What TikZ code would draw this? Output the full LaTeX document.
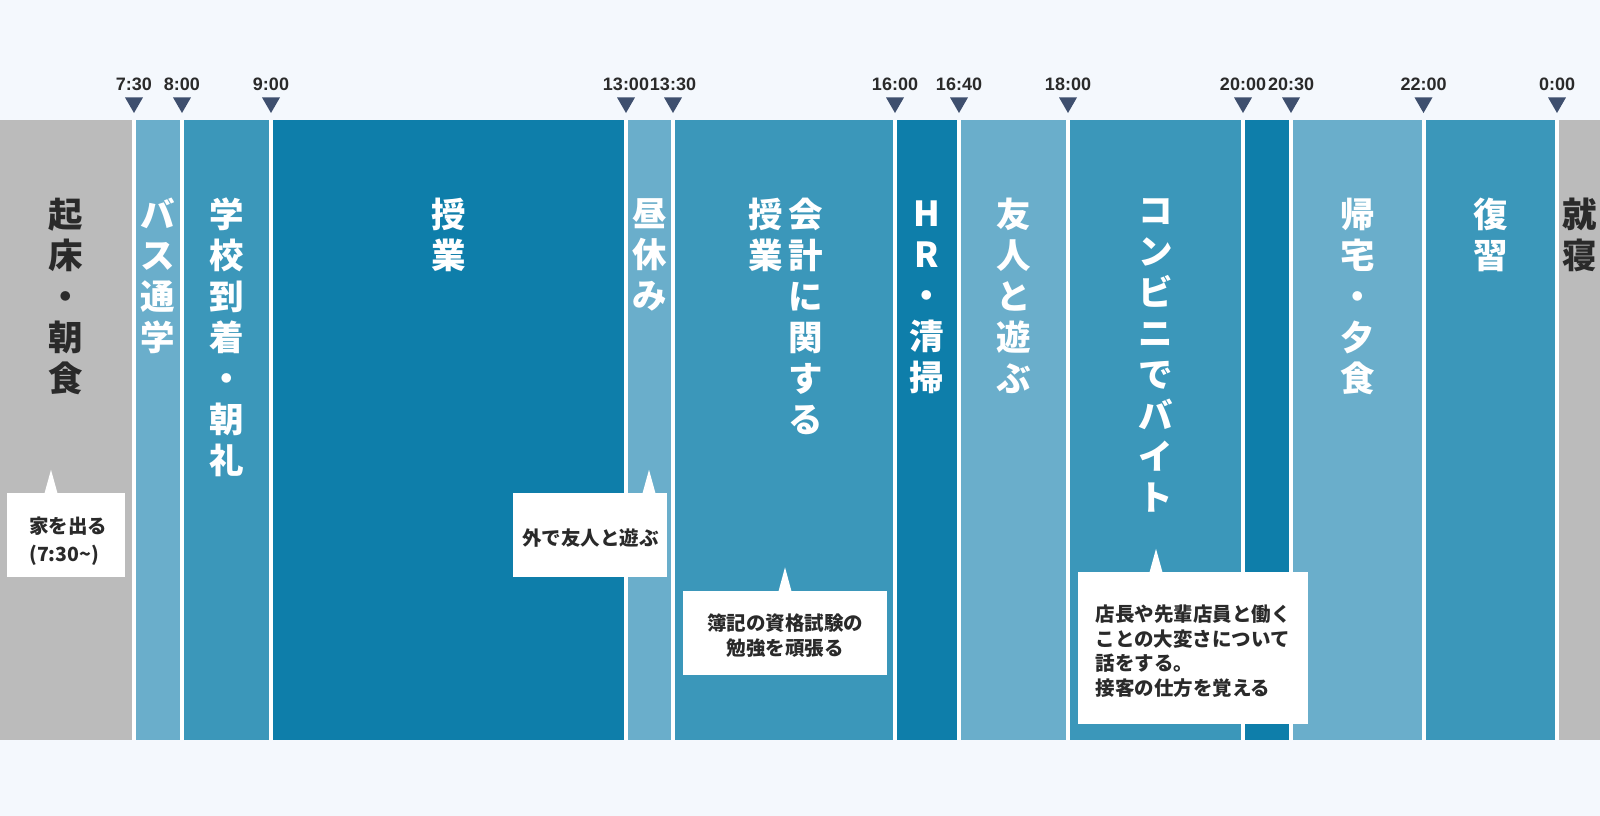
\documentclass[tikz,border=0pt]{standalone}
\usepackage{fontspec}
\setmainfont{Noto Sans CJK JP}
\newfontfamily\timefont{Liberation Sans}
\usetikzlibrary{positioning}
\usetikzlibrary{calc}
\usetikzlibrary{shapes.geometric}

\definecolor{bgc}{HTML}{F4F8FD}
\definecolor{grayc}{HTML}{BBBBBB}
\definecolor{lightc}{HTML}{6AAECB}
\definecolor{midc}{HTML}{3B97BA}
\definecolor{darkc}{HTML}{0E7EAA}
\definecolor{markc}{HTML}{3E4F6E}
\definecolor{inkc}{HTML}{2A2A2A}

\begin{document}
\begin{tikzpicture}[x=1pt, y=-1pt,
	col/.style={rectangle, inner sep=0pt, minimum height=620pt, anchor=north west},
	coltext/.style={font=\fontsize{34.5}{41}\selectfont\bfseries, text=white, align=center, inner sep=0pt},
	tick/.style={regular polygon, regular polygon sides=3, shape border rotate=180, fill=markc, inner sep=0pt, minimum size=20.8pt},
	time/.style={font=\timefont\fontsize{18}{20}\selectfont\bfseries, text=inkc, inner sep=0pt},
	note/.style={rectangle, fill=white, inner sep=0pt},
	notetext/.style={inner sep=0pt, align=left, font=\fontsize{19.5}{24.5}\selectfont\bfseries, text=inkc},
	pointer/.style={fill=white}]
		\useasboundingbox (0,0) rectangle (1600,816);
		\fill[bgc] (0,0) rectangle (1600,816);
		\fill[white] (0,120) rectangle (1600,740);
		% columns
		\node[col, fill=grayc, minimum width=132pt] (wake) at (0,120) {};
		\node[col, fill=lightc, minimum width=44pt] (bus) at (136,120) {};
		\node[col, fill=midc, minimum width=85pt] (arrive) at (184,120) {};
		\node[col, fill=darkc, minimum width=351pt] (class) at (273,120) {};
		\node[col, fill=lightc, minimum width=43pt] (lunch) at (628,120) {};
		\node[col, fill=midc, minimum width=218pt] (acct) at (675,120) {};
		\node[col, fill=darkc, minimum width=60pt] (hr) at (897,120) {};
		\node[col, fill=lightc, minimum width=105pt] (friends) at (961,120) {};
		\node[col, fill=midc, minimum width=171pt] (job) at (1070,120) {};
		\node[col, fill=darkc, minimum width=44pt] (ride) at (1245,120) {};
		\node[col, fill=lightc, minimum width=128.5pt] (home) at (1293,120) {};
		\node[col, fill=midc, minimum width=129.5pt] (review) at (1425.5,120) {};
		\node[col, fill=grayc, minimum width=41pt] (sleep) at (1559,120) {};
		% column labels
		\node[coltext, text=inkc, below=78pt of wake.north] (wakelbl) {起\\床\\・\\朝\\食};
		\node[coltext, below=78pt of bus.north] (buslbl) {バ\\ス\\通\\学};
		\node[coltext, below=78pt of arrive.north] (arrivelbl) {学\\校\\到\\着\\・\\朝\\礼};
		\node[coltext, below=78pt of class.north] (classlbl) {授\\業};
		\node[coltext, below=78pt of lunch.north] (lunchlbl) {昼\\休\\み};
		\node[coltext, below=78pt of acct.north, xshift=21.5pt] (acctlbl) {会\\計\\に\\関\\す\\る};
		\node[coltext, below=78pt of acct.north, xshift=-18.5pt] (acctlbl2) {授\\業};
		\node[coltext, below=81pt of hr.north] (hrlbl) {H\\R\\・\\清\\掃};
		\node[coltext, below=78pt of friends.north] (friendslbl) {友\\人\\と\\遊\\ぶ};
		\node[coltext, below=78pt of job.north] (joblbl) {コ\\ン\\ビ\\ニ\\で\\バ\\イ\\ト};
		\node[coltext, below=78pt of home.north] (homelbl) {帰\\宅\\・\\夕\\食};
		\node[coltext, below=78pt of review.north] (reviewlbl) {復\\習};
		\node[coltext, text=inkc, below=78pt of sleep.north] (sleeplbl) {就\\寝};
		% time marks
		\node[tick] (m0730) at (134,102.6) {};
		\node[tick] (m0800) at (182,102.6) {};
		\node[tick] (m0900) at (271,102.6) {};
		\node[tick] (m1300) at (626,102.6) {};
		\node[tick] (m1330) at (673,102.6) {};
		\node[tick] (m1600) at (895,102.6) {};
		\node[tick] (m1640) at (959,102.6) {};
		\node[tick] (m1800) at (1068,102.6) {};
		\node[tick] (m2000) at (1243,102.6) {};
		\node[tick] (m2030) at (1291,102.6) {};
		\node[tick] (m2200) at (1423.5,102.6) {};
		\node[tick] (m0000) at (1557,102.6) {};
		\node[time, above=6.4pt of m0730] (t0730) {7:30};
		\node[time, above=6.4pt of m0800] (t0800) {8:00};
		\node[time, above=6.4pt of m0900] (t0900) {9:00};
		\node[time, above=6.4pt of m1300] (t1300) {13:00};
		\node[time, above=6.4pt of m1330] (t1330) {13:30};
		\node[time, above=6.4pt of m1600] (t1600) {16:00};
		\node[time, above=6.4pt of m1640] (t1640) {16:40};
		\node[time, above=6.4pt of m1800] (t1800) {18:00};
		\node[time, above=6.4pt of m2000] (t2000) {20:00};
		\node[time, above=6.4pt of m2030] (t2030) {20:30};
		\node[time, above=6.4pt of m2200] (t2200) {22:00};
		\node[time, above=6.4pt of m0000] (t0000) {0:00};
		% notes
		\node[note, minimum width=118pt, minimum height=84pt] (leave) at (66.2,535) {};
		\node[note, minimum width=154pt, minimum height=84pt] (play) at (590.3,535) {};
		\node[note, minimum width=204pt, minimum height=84pt] (study) at (785,633) {};
		\node[note, minimum width=230pt, minimum height=152pt] (talk) at (1193,648) {};
		\fill[pointer] ($(leave.north)+(-21.7,0.5)$) -- ++(6.5,-23.5) -- ++(6.5,23.5) -- cycle;
		\fill[pointer] ($(play.north)+(52.2,0.5)$) -- ++(6.5,-23.5) -- ++(6.5,23.5) -- cycle;
		\fill[pointer] ($(study.north)+(-6.5,0.5)$) -- ++(6.5,-24) -- ++(6.5,24) -- cycle;
		\fill[pointer] ($(talk.north)+(-43.5,0.5)$) -- ++(6.5,-23.5) -- ++(6.5,23.5) -- cycle;
		\node[notetext, anchor=west] (leavetxt) at ($(leave.west)+(22,6)$) {家を出る\\[3pt](7:30\textasciitilde)};
		\node[notetext] (playtxt) at ($(play.center)+(0,3)$) {外で友人と遊ぶ};
		\node[notetext, align=center] (studytxt) at ($(study.center)+(0,2.5)$) {簿記の資格試験の\\勉強を頑張る};
		\node[notetext] (talktxt) at ($(talk.center)+(0,3)$) {店長や先輩店員と働く\\ことの大変さについて\\話をする。\\接客の仕方を覚える};
	\end{tikzpicture}
\end{document}
